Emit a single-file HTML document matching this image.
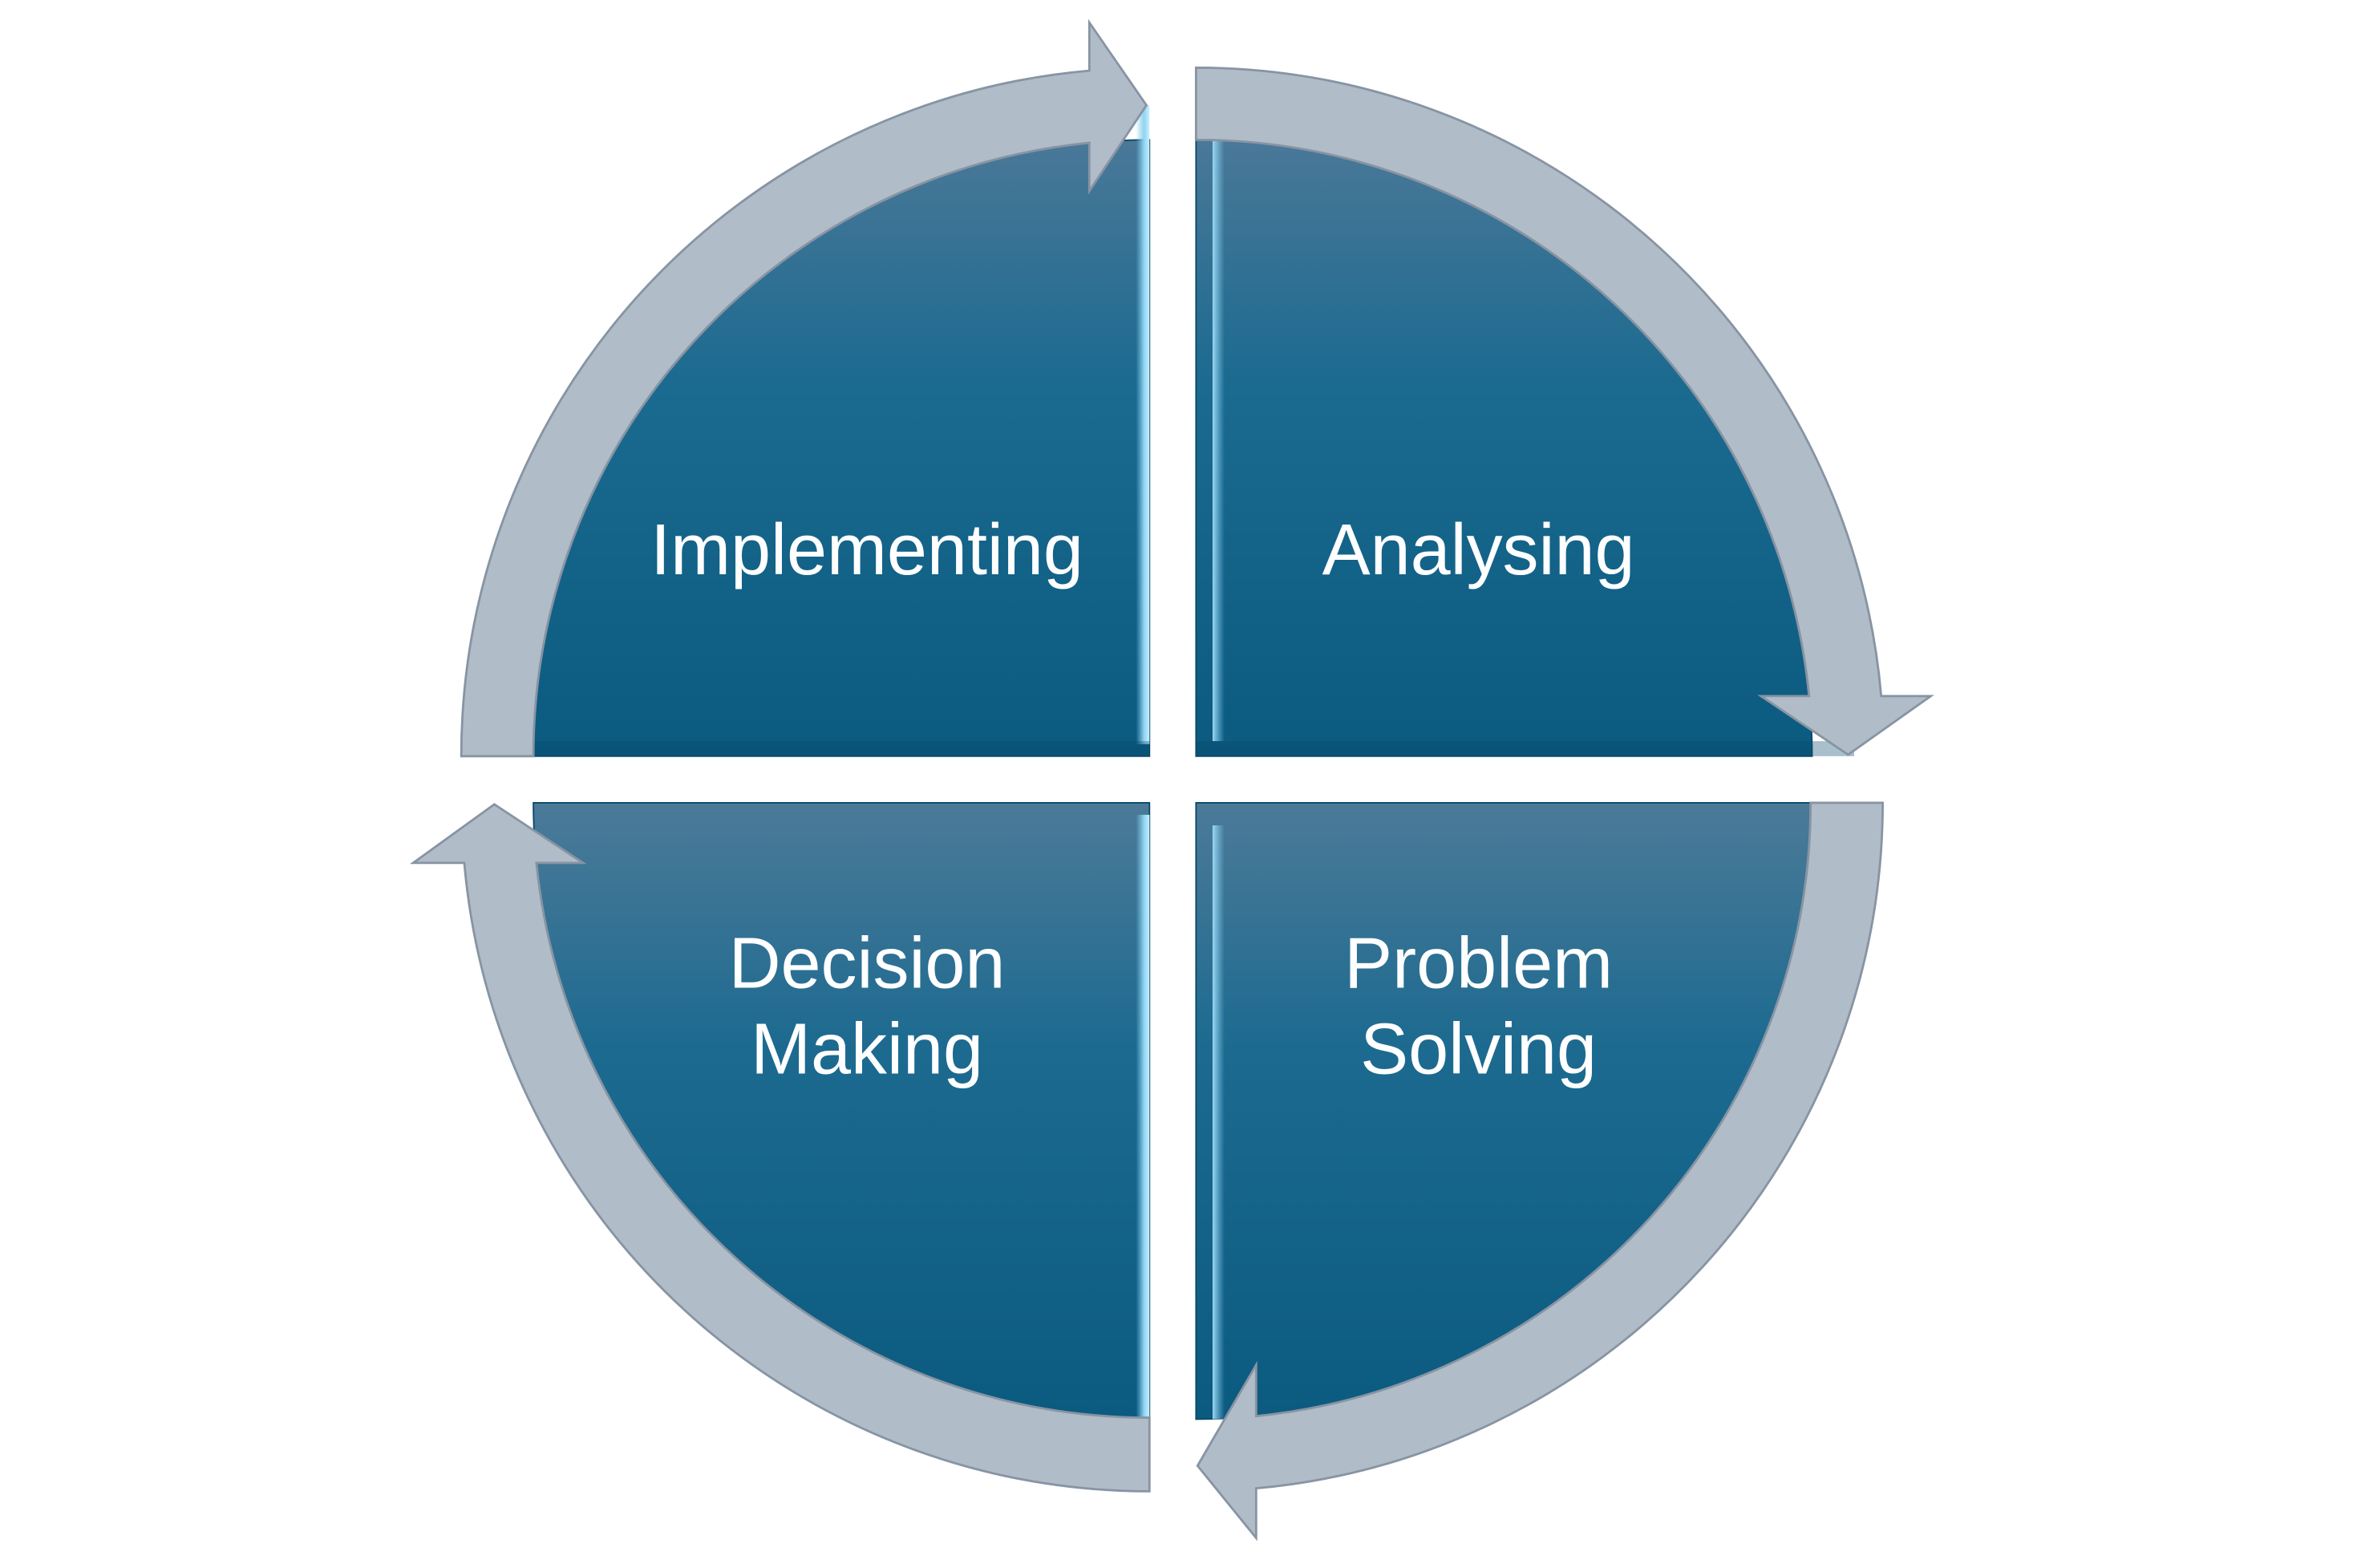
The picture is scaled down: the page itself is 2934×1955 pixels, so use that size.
<!DOCTYPE html>
<html><head><meta charset="utf-8"><style>
html,body{margin:0;padding:0;background:#fff;}
svg{display:block;}
text{font-family:"Liberation Sans",sans-serif;fill:#fff;font-size:48px;text-anchor:middle;}
</style></head><body>
<svg width="2934" height="1955" viewBox="0 0 1566 1043" preserveAspectRatio="none">
<defs>
<linearGradient id="gt" x1="0" y1="0" x2="0" y2="1">
<stop offset="0" stop-color="#4a7898"/><stop offset="0.4" stop-color="#1b6a90"/><stop offset="1" stop-color="#0b5a80"/></linearGradient>
<linearGradient id="gb" x1="0" y1="0" x2="0" y2="1">
<stop offset="0" stop-color="#4c7a98"/><stop offset="0.4" stop-color="#1c6a90"/><stop offset="1" stop-color="#0b5a80"/></linearGradient>
<linearGradient id="hl" x1="0" y1="0" x2="1" y2="0">
<stop offset="0" stop-color="#7fc8ea" stop-opacity="0"/><stop offset="0.6" stop-color="#8fd4f2"/><stop offset="1" stop-color="#c8f0ff"/></linearGradient>
<linearGradient id="hr" x1="0" y1="0" x2="1" y2="0">
<stop offset="0" stop-color="#9ad8f4"/><stop offset="1" stop-color="#7fc8ea" stop-opacity="0"/></linearGradient>
</defs>
<!-- quadrants -->
<path d="M765,503 L355,503 A410,410 0 0 1 765,93 Z" fill="url(#gt)" stroke="#0a4a6a" stroke-width="1"/>
<path d="M796,503 L796,93 A410,410 0 0 1 1206,503 Z" fill="url(#gt)" stroke="#0a4a6a" stroke-width="1"/>
<path d="M796,534 L1206,534 A410,410 0 0 1 796,944 Z" fill="url(#gb)" stroke="#0a4a6a" stroke-width="1"/>
<path d="M765,534 L765,944 A410,410 0 0 1 355,534 Z" fill="url(#gb)" stroke="#0a4a6a" stroke-width="1"/>
<!-- bevel highlights -->
<rect x="756" y="70" width="9" height="425" fill="url(#hl)"/>
<rect x="756" y="542" width="9" height="402" fill="url(#hl)"/>
<rect x="807" y="93" width="8" height="400" fill="url(#hr)"/>
<rect x="807" y="549" width="8" height="395" fill="url(#hr)"/>
<rect x="355" y="493" width="410" height="10" fill="#08486a" opacity="0.35"/>
<rect x="796" y="493" width="438" height="10" fill="#08486a" opacity="0.35"/>
<!-- arrows -->
<g fill="#b0bcc8" stroke="#8794a3" stroke-width="1.5">
<path d="M307,503 A458,458 0 0 1 725,47 L725,15 L763,70 L725,127 L725,95 A410,410 0 0 0 355,503 Z"/>
<path d="M796,45 A458,458 0 0 1 1252,463 L1285,463 L1230,502 L1172,463 L1204,463 A410,410 0 0 0 796,93 Z"/>
<path d="M1253,534 A458,458 0 0 1 836,990 L836,1023 L797,975 L836,908 L836,942 A410,410 0 0 0 1205,534 Z"/>
<path d="M765,992 A458,458 0 0 1 309,574 L275,574 L329,535 L388,574 L357,574 A410,410 0 0 0 765,943 Z"/>
</g>
<!-- labels -->
<text x="577" y="382">Implementing</text>
<text x="984" y="382">Analysing</text>
<text x="577" y="657">Decision</text>
<text x="577" y="714">Making</text>
<text x="984" y="657">Problem</text>
<text x="984" y="714">Solving</text>
</svg>
</body></html>
